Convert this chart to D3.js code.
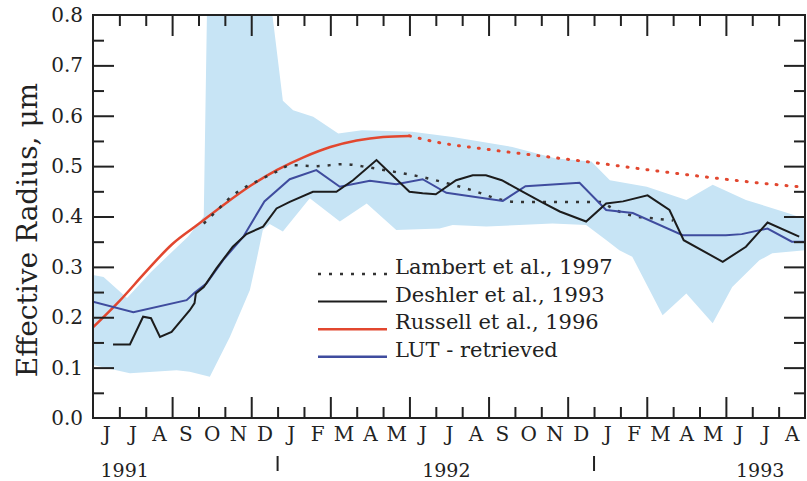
<!DOCTYPE html>
<html>
<head>
<meta charset="utf-8">
<script src="https://cdn.jsdelivr.net/npm/d3@7"></script>
<style>
  html, body { margin: 0; padding: 0; background: #fff; }
  svg { display: block; }
  text { font-family: "DejaVu Serif", serif; fill: #222; }
</style>
</head>
<body>
<svg id="chart" width="807" height="481"></svg>
<script>
// Months counted from 1 June 1991 (0) to 31 August 1993 (27)
const monthLetters = ["J","J","A","S","O","N","D","J","F","M","A","M","J","J","A","S","O","N","D","J","F","M","A","M","J","J","A"];
const yearLabels = ["1991", "1992", "1993"];
const yearLabelMonths = [1.2, 13.4, 25.3];
const yearBoundaryMonths = [7, 19];
const yTicks = [0, 0.1, 0.2, 0.3, 0.4, 0.5, 0.6, 0.7, 0.8];

// Spread of retrieved effective radius (upper / lower envelope)
const bandUpperMonth = [0, 0.4, 1.29, 2.2, 3.6, 4.2, 4.35, 6.57, 7.2, 7.59, 8.35, 9.3, 10.2, 12.1, 13.64, 15.9, 17.56, 18.9, 19.6, 21.0, 22.5, 23.5, 24.76, 26.4, 27];
const bandUpperValue = [0.284, 0.28, 0.238, 0.29, 0.36, 0.40, 0.90, 0.90, 0.63, 0.611, 0.598, 0.565, 0.571, 0.568, 0.558, 0.538, 0.515, 0.509, 0.472, 0.459, 0.433, 0.463, 0.433, 0.406, 0.395];
const bandLowerMonth = [0, 1.4, 3.17, 3.67, 4.43, 5.19, 5.95, 6.2, 6.44, 6.7, 7.2, 8.22, 9.36, 10.38, 11.5, 13.14, 13.64, 14.92, 17.42, 18.7, 19.47, 19.96, 20.45, 21.6, 22.5, 23.5, 24.24, 25.27, 25.76, 27];
const bandLowerValue = [0.105, 0.089, 0.095, 0.092, 0.082, 0.161, 0.254, 0.313, 0.373, 0.385, 0.37, 0.436, 0.39, 0.426, 0.373, 0.376, 0.383, 0.38, 0.386, 0.383, 0.353, 0.333, 0.32, 0.204, 0.247, 0.188, 0.26, 0.313, 0.327, 0.333];

// Russell et al., 1996 (solid while measured, dotted afterwards)
const russellMonth = [0, 1, 2, 3, 4, 5, 6, 7, 8, 9, 10, 11, 12];
const russellValue = [0.180, 0.232, 0.290, 0.345, 0.385, 0.425, 0.462, 0.493, 0.518, 0.538, 0.551, 0.558, 0.560];
const russellExtMonth = [12, 13, 15, 17, 19, 21, 23, 25, 27];
const russellExtValue = [0.560, 0.548, 0.533, 0.520, 0.507, 0.493, 0.480, 0.468, 0.458];

// Lambert et al., 1997
const lambertMonth = [4.2, 4.8, 5.3, 5.7, 6.3, 7.0, 7.5, 8.5, 9.5, 10.5, 11.5, 12.5, 13.5, 14.5, 15.4, 16.0, 19.2, 19.8, 20.6, 21.3, 22.0];
const lambertValue = [0.386, 0.417, 0.442, 0.456, 0.472, 0.490, 0.502, 0.500, 0.504, 0.497, 0.488, 0.478, 0.465, 0.450, 0.434, 0.429, 0.429, 0.413, 0.400, 0.396, 0.392];

// Deshler et al., 1993
const deshlerMonth = [0.76, 1.4, 1.9, 2.2, 2.54, 2.98, 3.67, 3.85, 3.9, 4.2, 4.68, 5.3, 5.82, 6.45, 6.96, 7.46, 8.34, 9.23, 9.86, 10.75, 12.0, 12.5, 13.0, 13.77, 14.4, 14.9, 15.5, 16.2, 17.0, 17.7, 18.7, 19.46, 20.1, 21.03, 21.86, 22.4, 23.88, 24.76, 25.58, 26.78];
const deshlerValue = [0.146, 0.146, 0.201, 0.198, 0.161, 0.171, 0.214, 0.228, 0.247, 0.26, 0.297, 0.34, 0.365, 0.38, 0.416, 0.429, 0.449, 0.449, 0.472, 0.512, 0.449, 0.446, 0.444, 0.472, 0.482, 0.482, 0.472, 0.452, 0.429, 0.41, 0.39, 0.426, 0.43, 0.442, 0.413, 0.353, 0.31, 0.34, 0.388, 0.36];

// LUT-retrieved monthly effective radius
const lutMonth = [0, 1.53, 3.55, 3.86, 4.3, 4.94, 5.7, 6.5, 7.46, 8.47, 9.36, 10.5, 11.5, 12.5, 13.4, 15.54, 16.4, 18.45, 19.46, 20.47, 22.36, 24.0, 24.6, 25.58, 26.5, 27];
const lutValue = [0.231, 0.21, 0.234, 0.249, 0.267, 0.314, 0.36, 0.43, 0.474, 0.492, 0.459, 0.471, 0.464, 0.474, 0.447, 0.431, 0.46, 0.467, 0.413, 0.407, 0.363, 0.363, 0.365, 0.376, 0.35, 0.35];

const legendLabels = ["Lambert et al., 1997", "Deshler et al., 1993", "Russell et al., 1996", "LUT - retrieved"];

const colors = { band: "#c7e4f5", red: "#e2472f", blue: "#3f4c9e", black: "#1c1c1c", axis: "#222" };

(function draw() {
  const svg = d3.select("#chart");
  const left = 93, right = 805, plotTop = 15, plotBottom = 418;

  const x = d3.scaleLinear().domain([0, 27]).range([left, right]);
  const y = d3.scaleLinear().domain([0, 0.8]).range([plotBottom, plotTop]);

  svg.append("defs").append("clipPath").attr("id", "plotClip")
    .append("rect").attr("x", left).attr("y", plotTop).attr("width", right - left).attr("height", plotBottom - plotTop);

  const plot = svg.append("g").attr("clip-path", "url(#plotClip)");

  const zip = (ms, vs) => ms.map((m, i) => [m, vs[i]]);

  // Envelope band
  const bandPts = zip(bandUpperMonth, bandUpperValue).concat(zip(bandLowerMonth, bandLowerValue).reverse());
  plot.append("path")
    .attr("d", d3.line().x(d => x(d[0])).y(d => y(d[1]))(bandPts) + "Z")
    .attr("fill", colors.band).attr("stroke", "none");

  const straight = d3.line().x(d => x(d[0])).y(d => y(d[1]));
  const smooth = d3.line().x(d => x(d[0])).y(d => y(d[1])).curve(d3.curveMonotoneX);

  plot.append("path").attr("d", smooth(zip(russellMonth, russellValue)))
    .attr("fill", "none").attr("stroke", colors.red).attr("stroke-width", 2.5);
  plot.append("path").attr("d", smooth(zip(russellExtMonth, russellExtValue)))
    .attr("fill", "none").attr("stroke", colors.red).attr("stroke-width", 3)
    .attr("stroke-dasharray", "1,9").attr("stroke-linecap", "round");

  plot.append("path").attr("d", smooth(zip(lambertMonth, lambertValue)))
    .attr("fill", "none").attr("stroke", "#333").attr("stroke-width", 2.5)
    .attr("stroke-dasharray", "3,8");

  plot.append("path").attr("d", straight(zip(lutMonth, lutValue)))
    .attr("fill", "none").attr("stroke", colors.blue).attr("stroke-width", 2);

  plot.append("path").attr("d", straight(zip(deshlerMonth, deshlerValue)))
    .attr("fill", "none").attr("stroke", colors.black).attr("stroke-width", 2);

  // Frame
  svg.append("rect").attr("x", left).attr("y", plotTop).attr("width", right - left).attr("height", plotBottom - plotTop)
    .attr("fill", "none").attr("stroke", colors.axis).attr("stroke-width", 2);

  // Axes: inward ticks, long ones every season
  const minorMonths = d3.range(1, 27).filter(m => m % 3 !== 0);
  const majorMonths = d3.range(1, 27).filter(m => m % 3 === 0);
  const minorY = d3.range(1, 16, 2).map(k => k * 0.05);

  function styleAxis(g) {
    g.select(".domain").remove();
    g.selectAll(".tick line").attr("stroke", colors.axis).attr("stroke-width", 2);
  }

  svg.append("g").attr("transform", `translate(0,${plotBottom})`)
    .call(d3.axisBottom(x).tickValues(minorMonths).tickSize(-11).tickFormat(""))
    .call(styleAxis);
  svg.append("g").attr("transform", `translate(0,${plotBottom})`)
    .call(d3.axisBottom(x).tickValues(majorMonths).tickSize(-21).tickFormat(""))
    .call(styleAxis);
  svg.append("g").attr("transform", `translate(0,${plotTop})`)
    .call(d3.axisTop(x).tickValues(minorMonths).tickSize(-11).tickFormat(""))
    .call(styleAxis);
  svg.append("g").attr("transform", `translate(0,${plotTop})`)
    .call(d3.axisTop(x).tickValues(majorMonths).tickSize(-21).tickFormat(""))
    .call(styleAxis);

  // Month initials centred in each month
  svg.append("g").attr("transform", `translate(0,${plotBottom})`)
    .call(d3.axisBottom(x).tickValues(monthLetters.map((_, i) => i + 0.5)).tickSize(0).tickPadding(9)
      .tickFormat((d, i) => monthLetters[i]))
    .call(g => { g.select(".domain").remove(); })
    .selectAll("text").attr("font-size", 20).attr("font-family", "DejaVu Serif").attr("fill", "#222");

  svg.append("g").attr("transform", `translate(${left},0)`)
    .call(d3.axisLeft(y).tickValues(yTicks.slice(1, -1)).tickSize(-21).tickFormat(""))
    .call(styleAxis);
  svg.append("g").attr("transform", `translate(${left},0)`)
    .call(d3.axisLeft(y).tickValues(minorY).tickSize(-11).tickFormat(""))
    .call(styleAxis);
  svg.append("g").attr("transform", `translate(${left},0)`)
    .call(d3.axisLeft(y).tickValues(yTicks).tickSize(0).tickPadding(10).tickFormat(d3.format(".1f")))
    .call(g => g.select(".domain").remove())
    .selectAll("text").attr("font-size", 20).attr("font-family", "DejaVu Serif").attr("fill", "#222");
  svg.append("g").attr("transform", `translate(${right},0)`)
    .call(d3.axisRight(y).tickValues(yTicks.slice(1, -1)).tickSize(-21).tickFormat(""))
    .call(styleAxis);
  svg.append("g").attr("transform", `translate(${right},0)`)
    .call(d3.axisRight(y).tickValues(minorY).tickSize(-11).tickFormat(""))
    .call(styleAxis);

  // Years and year boundaries
  svg.append("g").selectAll("text").data(yearLabels).join("text")
    .attr("x", (d, i) => x(yearLabelMonths[i])).attr("y", 477)
    .attr("text-anchor", "middle").attr("font-size", 19).text(d => d);
  svg.append("g").selectAll("line").data(yearBoundaryMonths).join("line")
    .attr("x1", d => x(d)).attr("x2", d => x(d)).attr("y1", 456).attr("y2", 471)
    .attr("stroke", colors.axis).attr("stroke-width", 2);

  // Y title
  svg.append("text")
    .attr("transform", `translate(37,230) rotate(-90)`)
    .attr("text-anchor", "middle").attr("font-size", 28)
    .text("Effective Radius, μm");

  // Legend
  const legendStyles = [
    { stroke: "#333", width: 2.5, dash: "3,8" },
    { stroke: colors.black, width: 2, dash: null },
    { stroke: colors.red, width: 2.5, dash: null },
    { stroke: colors.blue, width: 2.5, dash: null }
  ];
  const legend = svg.append("g");
  legendLabels.forEach((label, i) => {
    const ly = 274 + i * 27.6;
    const st = legendStyles[i];
    legend.append("line").attr("x1", 318).attr("x2", 387).attr("y1", ly).attr("y2", ly)
      .attr("stroke", st.stroke).attr("stroke-width", st.width)
      .attr("stroke-dasharray", st.dash);
    legend.append("text").attr("x", 395).attr("y", ly).attr("font-size", 21).text(label);
  });
})();
</script>
</body>
</html>
